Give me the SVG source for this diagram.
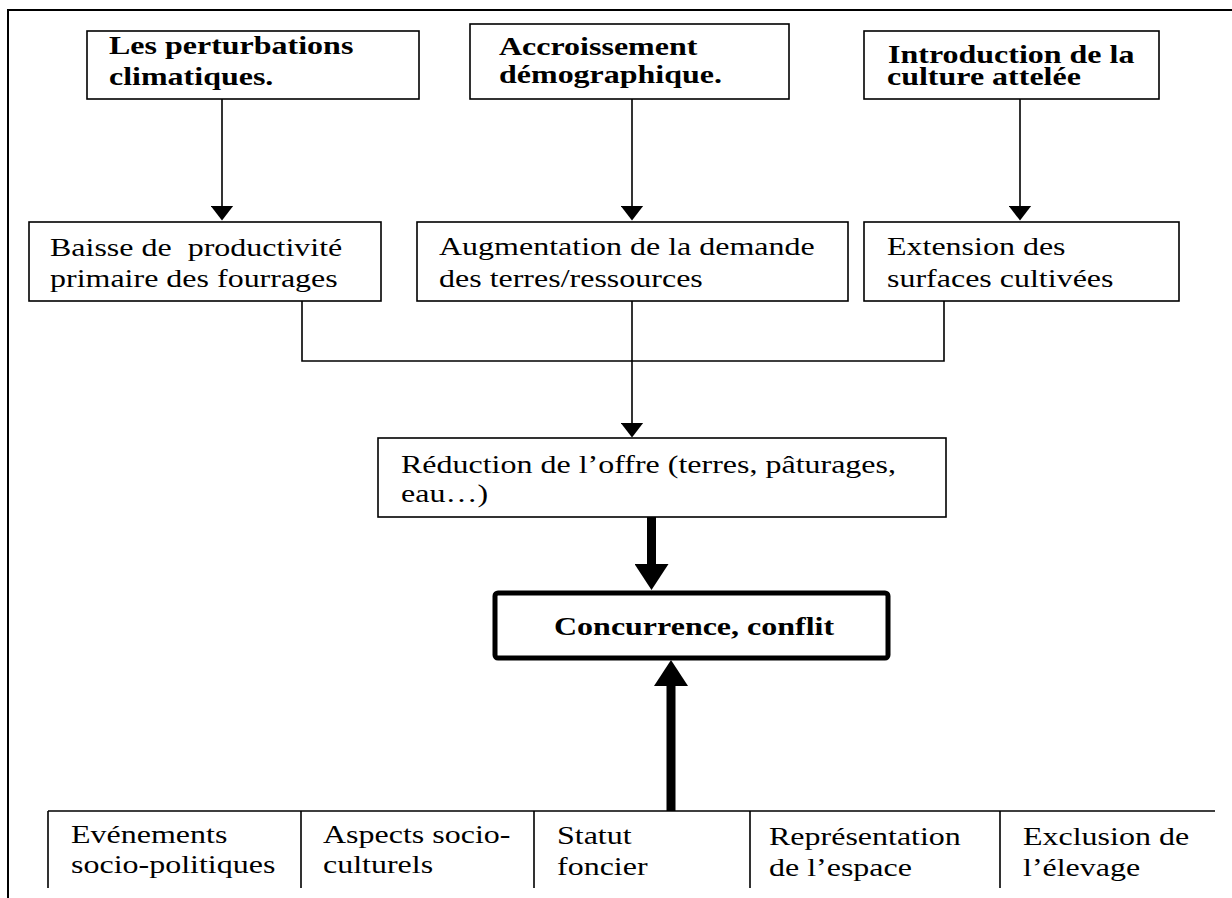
<svg xmlns="http://www.w3.org/2000/svg" width="1232" height="898" viewBox="0 0 1232 898">
<style>
.box{fill:#fff;stroke:#000;stroke-width:1.6}
.thick{fill:#fff;stroke:#000;stroke-width:5}
.t{font-family:"Liberation Serif","Times New Roman",serif;font-size:32px;fill:#000}
.b{font-family:"Liberation Serif","Times New Roman",serif;font-size:32px;font-weight:bold;fill:#000}
.ln{fill:none;stroke:#000;stroke-width:1.6}
.tk{fill:none;stroke:#000;stroke-width:9}
</style>
<defs>
<marker id="ah" viewBox="0 0 15 23" refX="0.5" refY="11.5" markerWidth="15" markerHeight="23" markerUnits="userSpaceOnUse" orient="auto"><path d="M0,0 L15,11.5 L0,23 z" fill="#000"/></marker>
<marker id="ahk" viewBox="0 0 26 34" refX="1" refY="17" markerWidth="26" markerHeight="34" markerUnits="userSpaceOnUse" orient="auto"><path d="M0,0 L26,17 L0,34 z" fill="#000"/></marker>
</defs>
<rect width="1232" height="898" fill="#fff"/>
<g id="frame">
<path d="M8,898 V10 H1232" fill="none" stroke="#000" stroke-width="2"/>
</g>
<g id="connectors">
<line class="ln" x1="222" y1="99" x2="222" y2="206" marker-end="url(#ah)"/>
<line class="ln" x1="632" y1="99" x2="632" y2="206" marker-end="url(#ah)"/>
<line class="ln" x1="1020" y1="99" x2="1020" y2="206" marker-end="url(#ah)"/>
<path class="ln" d="M302,301 V361 H944 V301"/>
<line class="ln" x1="632" y1="301" x2="632" y2="423" marker-end="url(#ah)"/>
<line class="tk" x1="651.5" y1="517" x2="651.5" y2="565" marker-end="url(#ahk)"/>
<line class="tk" x1="671" y1="811" x2="671" y2="685" marker-end="url(#ahk)"/>
</g>
<g id="n-perturbations">
<rect class="box" x="87" y="31" width="332" height="68"/>
<text class="b" transform="matrix(1,0,0,0.76,109,54)">Les perturbations</text>
<text class="b" transform="matrix(1,0,0,0.76,109,85)">climatiques.</text>
</g>
<g id="n-accroissement">
<rect class="box" x="470" y="24" width="319" height="75"/>
<text class="b" transform="matrix(1,0,0,0.76,499,55)">Accroissement</text>
<text class="b" transform="matrix(1,0,0,0.76,499,83)">démographique.</text>
</g>
<g id="n-introduction">
<rect class="box" x="864" y="31" width="295" height="68"/>
<text class="b" transform="matrix(1,0,0,0.76,888,63)">Introduction de la</text>
<text class="b" transform="matrix(1,0,0,0.76,887,85)">culture attelée</text>
</g>
<g id="n-baisse">
<rect class="box" x="29" y="222" width="352" height="79"/>
<text class="t" xml:space="preserve" transform="matrix(1,0,0,0.77,50,256)">Baisse de  productivité</text>
<text class="t" transform="matrix(1,0,0,0.77,50,287)">primaire des fourrages</text>
</g>
<g id="n-augmentation">
<rect class="box" x="417" y="222" width="431" height="79"/>
<text class="t" transform="matrix(1,0,0,0.77,439,255)">Augmentation de la demande</text>
<text class="t" transform="matrix(1,0,0,0.77,439,287)">des terres/ressources</text>
</g>
<g id="n-extension">
<rect class="box" x="864" y="222" width="315" height="79"/>
<text class="t" transform="matrix(1,0,0,0.77,887,255)">Extension des</text>
<text class="t" transform="matrix(1,0,0,0.77,887,287)">surfaces cultivées</text>
</g>
<g id="n-reduction">
<rect class="box" x="378" y="438" width="568" height="79"/>
<text class="t" transform="matrix(1,0,0,0.77,401,473)">Réduction de l’offre (terres, pâturages,</text>
<text class="t" transform="matrix(1,0,0,0.77,401,502)">eau…)</text>
</g>
<g id="n-concurrence">
<rect class="thick" x="495" y="593" width="393" height="65" rx="3"/>
<text class="b" transform="matrix(1,0,0,0.82,554,635)">Concurrence, conflit</text>
</g>
<g id="n-table">
<path class="ln" d="M48,811 H1215 M48,811 V888 M301,811 V888 M534,811 V888 M750,811 V888 M1000,811 V888"/>
</g>
<g id="n-evenements">
<text class="t" transform="matrix(1,0,0,0.77,71,843)">Evénements</text>
<text class="t" transform="matrix(1,0,0,0.77,71,873)">socio-politiques</text>
</g>
<g id="n-aspects">
<text class="t" transform="matrix(1,0,0,0.77,323,843)">Aspects socio-</text>
<text class="t" transform="matrix(1,0,0,0.77,323,873)">culturels</text>
</g>
<g id="n-statut">
<text class="t" transform="matrix(1,0,0,0.77,557,844)">Statut</text>
<text class="t" transform="matrix(1,0,0,0.77,557,875)">foncier</text>
</g>
<g id="n-representation">
<text class="t" transform="matrix(1,0,0,0.77,769,845)">Représentation</text>
<text class="t" transform="matrix(1,0,0,0.77,769,876)">de l’espace</text>
</g>
<g id="n-exclusion">
<text class="t" transform="matrix(1,0,0,0.77,1023,845)">Exclusion de</text>
<text class="t" transform="matrix(1,0,0,0.77,1023,876)">l’élevage</text>
</g>
</svg>
